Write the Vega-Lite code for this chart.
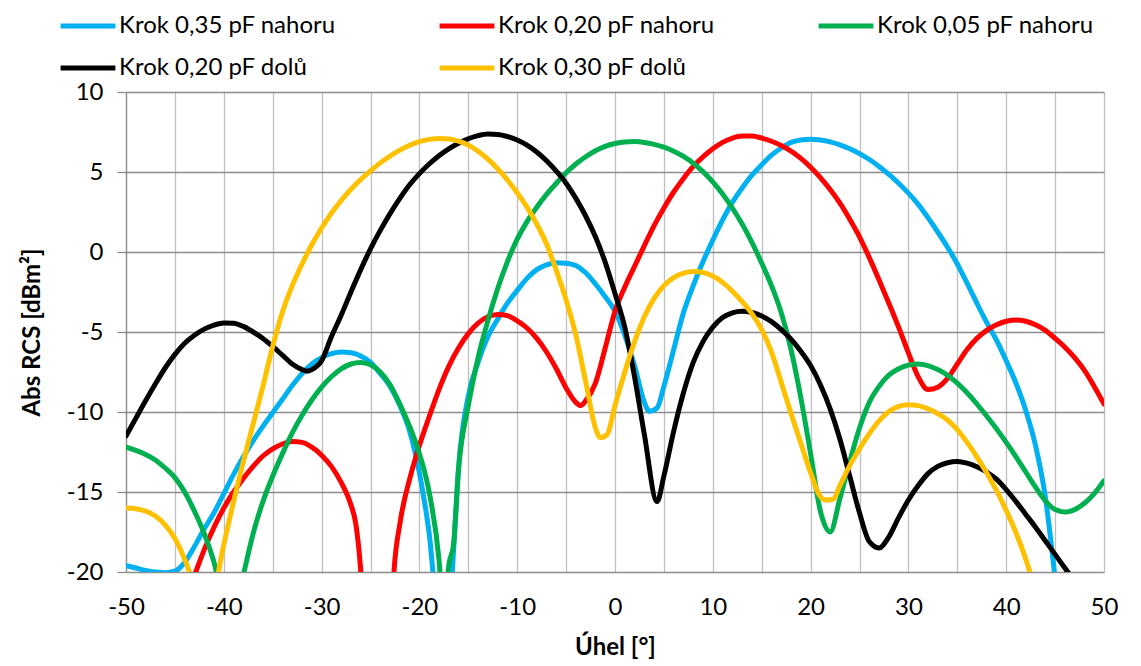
{
  "$schema": "https://vega.github.io/schema/vega-lite/v6.json",
  "width": 978,
  "height": 480,
  "autosize": {"type": "none"},
  "padding": {"left": 126, "top": 92, "right": 37, "bottom": 94},
  "background": "white",
  "config": {"font": "Lato", "view": {"stroke": null}},
  "data": {"values": [
    {"serie":"Krok 0,35 pF nahoru","uhel":-50,"rcs":-19.6},{"serie":"Krok 0,35 pF nahoru","uhel":-49,"rcs":-19.75},{"serie":"Krok 0,35 pF nahoru","uhel":-48,"rcs":-19.9},{"serie":"Krok 0,35 pF nahoru","uhel":-47,"rcs":-20.0},{"serie":"Krok 0,35 pF nahoru","uhel":-46,"rcs":-20.05},{"serie":"Krok 0,35 pF nahoru","uhel":-45,"rcs":-19.95},{"serie":"Krok 0,35 pF nahoru","uhel":-44,"rcs":-19.4},{"serie":"Krok 0,35 pF nahoru","uhel":-43,"rcs":-18.4},{"serie":"Krok 0,35 pF nahoru","uhel":-42,"rcs":-17.3},{"serie":"Krok 0,35 pF nahoru","uhel":-41,"rcs":-16.3},{"serie":"Krok 0,35 pF nahoru","uhel":-40,"rcs":-15.1},{"serie":"Krok 0,35 pF nahoru","uhel":-39,"rcs":-13.9},{"serie":"Krok 0,35 pF nahoru","uhel":-38,"rcs":-12.8},{"serie":"Krok 0,35 pF nahoru","uhel":-37,"rcs":-11.8},{"serie":"Krok 0,35 pF nahoru","uhel":-36,"rcs":-10.9},{"serie":"Krok 0,35 pF nahoru","uhel":-35,"rcs":-10.05},{"serie":"Krok 0,35 pF nahoru","uhel":-34,"rcs":-9.2},{"serie":"Krok 0,35 pF nahoru","uhel":-33,"rcs":-8.35},{"serie":"Krok 0,35 pF nahoru","uhel":-32,"rcs":-7.6},{"serie":"Krok 0,35 pF nahoru","uhel":-31,"rcs":-7.0},{"serie":"Krok 0,35 pF nahoru","uhel":-30,"rcs":-6.6},{"serie":"Krok 0,35 pF nahoru","uhel":-29,"rcs":-6.35},{"serie":"Krok 0,35 pF nahoru","uhel":-28,"rcs":-6.25},{"serie":"Krok 0,35 pF nahoru","uhel":-27,"rcs":-6.3},{"serie":"Krok 0,35 pF nahoru","uhel":-26,"rcs":-6.5},{"serie":"Krok 0,35 pF nahoru","uhel":-25,"rcs":-6.9},{"serie":"Krok 0,35 pF nahoru","uhel":-24,"rcs":-7.6},{"serie":"Krok 0,35 pF nahoru","uhel":-23,"rcs":-8.4},{"serie":"Krok 0,35 pF nahoru","uhel":-22,"rcs":-9.6},{"serie":"Krok 0,35 pF nahoru","uhel":-21,"rcs":-11.2},{"serie":"Krok 0,35 pF nahoru","uhel":-20,"rcs":-13.8},{"serie":"Krok 0,35 pF nahoru","uhel":-19,"rcs":-17.6},{"serie":"Krok 0,35 pF nahoru","uhel":-18,"rcs":-23},{"serie":"Krok 0,35 pF nahoru","uhel":-17,"rcs":-23},{"serie":"Krok 0,35 pF nahoru","uhel":-16.5,"rcs":-18.6},{"serie":"Krok 0,35 pF nahoru","uhel":-16,"rcs":-13.5},{"serie":"Krok 0,35 pF nahoru","uhel":-15,"rcs":-9.0},{"serie":"Krok 0,35 pF nahoru","uhel":-14,"rcs":-6.9},{"serie":"Krok 0,35 pF nahoru","uhel":-13,"rcs":-5.3},{"serie":"Krok 0,35 pF nahoru","uhel":-12,"rcs":-4.2},{"serie":"Krok 0,35 pF nahoru","uhel":-11,"rcs":-3.2},{"serie":"Krok 0,35 pF nahoru","uhel":-10,"rcs":-2.4},{"serie":"Krok 0,35 pF nahoru","uhel":-9,"rcs":-1.65},{"serie":"Krok 0,35 pF nahoru","uhel":-8,"rcs":-1.1},{"serie":"Krok 0,35 pF nahoru","uhel":-7,"rcs":-0.8},{"serie":"Krok 0,35 pF nahoru","uhel":-6,"rcs":-0.67},{"serie":"Krok 0,35 pF nahoru","uhel":-5,"rcs":-0.7},{"serie":"Krok 0,35 pF nahoru","uhel":-4,"rcs":-0.85},{"serie":"Krok 0,35 pF nahoru","uhel":-3,"rcs":-1.3},{"serie":"Krok 0,35 pF nahoru","uhel":-2,"rcs":-2.0},{"serie":"Krok 0,35 pF nahoru","uhel":-1,"rcs":-2.8},{"serie":"Krok 0,35 pF nahoru","uhel":0,"rcs":-3.7},{"serie":"Krok 0,35 pF nahoru","uhel":1,"rcs":-5.2},{"serie":"Krok 0,35 pF nahoru","uhel":2,"rcs":-7.1},{"serie":"Krok 0,35 pF nahoru","uhel":3,"rcs":-9.4},{"serie":"Krok 0,35 pF nahoru","uhel":3.5,"rcs":-9.95},{"serie":"Krok 0,35 pF nahoru","uhel":4.3,"rcs":-9.75},{"serie":"Krok 0,35 pF nahoru","uhel":5,"rcs":-8.4},{"serie":"Krok 0,35 pF nahoru","uhel":6,"rcs":-6.1},{"serie":"Krok 0,35 pF nahoru","uhel":7,"rcs":-3.8},{"serie":"Krok 0,35 pF nahoru","uhel":8,"rcs":-2.1},{"serie":"Krok 0,35 pF nahoru","uhel":9,"rcs":-0.6},{"serie":"Krok 0,35 pF nahoru","uhel":10,"rcs":0.75},{"serie":"Krok 0,35 pF nahoru","uhel":11,"rcs":2.0},{"serie":"Krok 0,35 pF nahoru","uhel":12,"rcs":3.1},{"serie":"Krok 0,35 pF nahoru","uhel":13,"rcs":4.0},{"serie":"Krok 0,35 pF nahoru","uhel":14,"rcs":4.8},{"serie":"Krok 0,35 pF nahoru","uhel":15,"rcs":5.45},{"serie":"Krok 0,35 pF nahoru","uhel":16,"rcs":6.05},{"serie":"Krok 0,35 pF nahoru","uhel":17,"rcs":6.5},{"serie":"Krok 0,35 pF nahoru","uhel":18,"rcs":6.85},{"serie":"Krok 0,35 pF nahoru","uhel":19,"rcs":7.0},{"serie":"Krok 0,35 pF nahoru","uhel":20,"rcs":7.05},{"serie":"Krok 0,35 pF nahoru","uhel":21,"rcs":7.0},{"serie":"Krok 0,35 pF nahoru","uhel":22,"rcs":6.88},{"serie":"Krok 0,35 pF nahoru","uhel":23,"rcs":6.7},{"serie":"Krok 0,35 pF nahoru","uhel":24,"rcs":6.45},{"serie":"Krok 0,35 pF nahoru","uhel":25,"rcs":6.15},{"serie":"Krok 0,35 pF nahoru","uhel":26,"rcs":5.78},{"serie":"Krok 0,35 pF nahoru","uhel":27,"rcs":5.35},{"serie":"Krok 0,35 pF nahoru","uhel":28,"rcs":4.85},{"serie":"Krok 0,35 pF nahoru","uhel":29,"rcs":4.3},{"serie":"Krok 0,35 pF nahoru","uhel":30,"rcs":3.68},{"serie":"Krok 0,35 pF nahoru","uhel":31,"rcs":2.98},{"serie":"Krok 0,35 pF nahoru","uhel":32,"rcs":2.15},{"serie":"Krok 0,35 pF nahoru","uhel":33,"rcs":1.25},{"serie":"Krok 0,35 pF nahoru","uhel":34,"rcs":0.3},{"serie":"Krok 0,35 pF nahoru","uhel":35,"rcs":-0.75},{"serie":"Krok 0,35 pF nahoru","uhel":36,"rcs":-1.95},{"serie":"Krok 0,35 pF nahoru","uhel":37,"rcs":-3.2},{"serie":"Krok 0,35 pF nahoru","uhel":38,"rcs":-4.4},{"serie":"Krok 0,35 pF nahoru","uhel":39,"rcs":-5.5},{"serie":"Krok 0,35 pF nahoru","uhel":40,"rcs":-6.8},{"serie":"Krok 0,35 pF nahoru","uhel":41,"rcs":-8.2},{"serie":"Krok 0,35 pF nahoru","uhel":42,"rcs":-9.9},{"serie":"Krok 0,35 pF nahoru","uhel":43,"rcs":-12.1},{"serie":"Krok 0,35 pF nahoru","uhel":44,"rcs":-15.3},{"serie":"Krok 0,35 pF nahoru","uhel":45,"rcs":-20.4},{"serie":"Krok 0,35 pF nahoru","uhel":46,"rcs":-26},{"serie":"Krok 0,35 pF nahoru","uhel":48,"rcs":-32},{"serie":"Krok 0,35 pF nahoru","uhel":50,"rcs":-38},

    {"serie":"Krok 0,20 pF nahoru","uhel":-50,"rcs":-32},{"serie":"Krok 0,20 pF nahoru","uhel":-47,"rcs":-27},{"serie":"Krok 0,20 pF nahoru","uhel":-45,"rcs":-23.5},{"serie":"Krok 0,20 pF nahoru","uhel":-44,"rcs":-21.8},{"serie":"Krok 0,20 pF nahoru","uhel":-43,"rcs":-20.2},{"serie":"Krok 0,20 pF nahoru","uhel":-42,"rcs":-18.6},{"serie":"Krok 0,20 pF nahoru","uhel":-41,"rcs":-17.2},{"serie":"Krok 0,20 pF nahoru","uhel":-40,"rcs":-16.0},{"serie":"Krok 0,20 pF nahoru","uhel":-39,"rcs":-15.0},{"serie":"Krok 0,20 pF nahoru","uhel":-38,"rcs":-14.15},{"serie":"Krok 0,20 pF nahoru","uhel":-37,"rcs":-13.4},{"serie":"Krok 0,20 pF nahoru","uhel":-36,"rcs":-12.75},{"serie":"Krok 0,20 pF nahoru","uhel":-35,"rcs":-12.3},{"serie":"Krok 0,20 pF nahoru","uhel":-34,"rcs":-12.0},{"serie":"Krok 0,20 pF nahoru","uhel":-33,"rcs":-11.85},{"serie":"Krok 0,20 pF nahoru","uhel":-32,"rcs":-11.9},{"serie":"Krok 0,20 pF nahoru","uhel":-31,"rcs":-12.2},{"serie":"Krok 0,20 pF nahoru","uhel":-30,"rcs":-12.7},{"serie":"Krok 0,20 pF nahoru","uhel":-29,"rcs":-13.4},{"serie":"Krok 0,20 pF nahoru","uhel":-28,"rcs":-14.4},{"serie":"Krok 0,20 pF nahoru","uhel":-27,"rcs":-15.8},{"serie":"Krok 0,20 pF nahoru","uhel":-26.5,"rcs":-17.0},{"serie":"Krok 0,20 pF nahoru","uhel":-26,"rcs":-19.9},{"serie":"Krok 0,20 pF nahoru","uhel":-25.5,"rcs":-25},{"serie":"Krok 0,20 pF nahoru","uhel":-24,"rcs":-29},{"serie":"Krok 0,20 pF nahoru","uhel":-23,"rcs":-25},{"serie":"Krok 0,20 pF nahoru","uhel":-22.6,"rcs":-20},{"serie":"Krok 0,20 pF nahoru","uhel":-22,"rcs":-17.0},{"serie":"Krok 0,20 pF nahoru","uhel":-21,"rcs":-14.2},{"serie":"Krok 0,20 pF nahoru","uhel":-20,"rcs":-12.1},{"serie":"Krok 0,20 pF nahoru","uhel":-19,"rcs":-10.3},{"serie":"Krok 0,20 pF nahoru","uhel":-18,"rcs":-8.6},{"serie":"Krok 0,20 pF nahoru","uhel":-17,"rcs":-7.15},{"serie":"Krok 0,20 pF nahoru","uhel":-16,"rcs":-6.0},{"serie":"Krok 0,20 pF nahoru","uhel":-15,"rcs":-5.1},{"serie":"Krok 0,20 pF nahoru","uhel":-14,"rcs":-4.45},{"serie":"Krok 0,20 pF nahoru","uhel":-13,"rcs":-4.05},{"serie":"Krok 0,20 pF nahoru","uhel":-12,"rcs":-3.9},{"serie":"Krok 0,20 pF nahoru","uhel":-11,"rcs":-3.98},{"serie":"Krok 0,20 pF nahoru","uhel":-10,"rcs":-4.3},{"serie":"Krok 0,20 pF nahoru","uhel":-9,"rcs":-4.75},{"serie":"Krok 0,20 pF nahoru","uhel":-8,"rcs":-5.4},{"serie":"Krok 0,20 pF nahoru","uhel":-7,"rcs":-6.25},{"serie":"Krok 0,20 pF nahoru","uhel":-6,"rcs":-7.3},{"serie":"Krok 0,20 pF nahoru","uhel":-5,"rcs":-8.5},{"serie":"Krok 0,20 pF nahoru","uhel":-4,"rcs":-9.4},{"serie":"Krok 0,20 pF nahoru","uhel":-3.5,"rcs":-9.6},{"serie":"Krok 0,20 pF nahoru","uhel":-3,"rcs":-9.3},{"serie":"Krok 0,20 pF nahoru","uhel":-2,"rcs":-8.2},{"serie":"Krok 0,20 pF nahoru","uhel":-1,"rcs":-6.0},{"serie":"Krok 0,20 pF nahoru","uhel":0,"rcs":-3.7},{"serie":"Krok 0,20 pF nahoru","uhel":1,"rcs":-2.2},{"serie":"Krok 0,20 pF nahoru","uhel":2,"rcs":-0.9},{"serie":"Krok 0,20 pF nahoru","uhel":3,"rcs":0.4},{"serie":"Krok 0,20 pF nahoru","uhel":4,"rcs":1.65},{"serie":"Krok 0,20 pF nahoru","uhel":5,"rcs":2.75},{"serie":"Krok 0,20 pF nahoru","uhel":6,"rcs":3.75},{"serie":"Krok 0,20 pF nahoru","uhel":7,"rcs":4.6},{"serie":"Krok 0,20 pF nahoru","uhel":8,"rcs":5.35},{"serie":"Krok 0,20 pF nahoru","uhel":9,"rcs":5.95},{"serie":"Krok 0,20 pF nahoru","uhel":10,"rcs":6.45},{"serie":"Krok 0,20 pF nahoru","uhel":11,"rcs":6.85},{"serie":"Krok 0,20 pF nahoru","uhel":12,"rcs":7.12},{"serie":"Krok 0,20 pF nahoru","uhel":13,"rcs":7.25},{"serie":"Krok 0,20 pF nahoru","uhel":14,"rcs":7.25},{"serie":"Krok 0,20 pF nahoru","uhel":15,"rcs":7.12},{"serie":"Krok 0,20 pF nahoru","uhel":16,"rcs":6.92},{"serie":"Krok 0,20 pF nahoru","uhel":17,"rcs":6.65},{"serie":"Krok 0,20 pF nahoru","uhel":18,"rcs":6.3},{"serie":"Krok 0,20 pF nahoru","uhel":19,"rcs":5.85},{"serie":"Krok 0,20 pF nahoru","uhel":20,"rcs":5.3},{"serie":"Krok 0,20 pF nahoru","uhel":21,"rcs":4.65},{"serie":"Krok 0,20 pF nahoru","uhel":22,"rcs":3.9},{"serie":"Krok 0,20 pF nahoru","uhel":23,"rcs":3.05},{"serie":"Krok 0,20 pF nahoru","uhel":24,"rcs":2.05},{"serie":"Krok 0,20 pF nahoru","uhel":25,"rcs":0.95},{"serie":"Krok 0,20 pF nahoru","uhel":26,"rcs":-0.35},{"serie":"Krok 0,20 pF nahoru","uhel":27,"rcs":-1.75},{"serie":"Krok 0,20 pF nahoru","uhel":28,"rcs":-3.2},{"serie":"Krok 0,20 pF nahoru","uhel":29,"rcs":-4.7},{"serie":"Krok 0,20 pF nahoru","uhel":30,"rcs":-6.3},{"serie":"Krok 0,20 pF nahoru","uhel":31,"rcs":-7.8},{"serie":"Krok 0,20 pF nahoru","uhel":32,"rcs":-8.6},{"serie":"Krok 0,20 pF nahoru","uhel":33,"rcs":-8.45},{"serie":"Krok 0,20 pF nahoru","uhel":34,"rcs":-7.9},{"serie":"Krok 0,20 pF nahoru","uhel":35,"rcs":-7.0},{"serie":"Krok 0,20 pF nahoru","uhel":36,"rcs":-6.1},{"serie":"Krok 0,20 pF nahoru","uhel":37,"rcs":-5.4},{"serie":"Krok 0,20 pF nahoru","uhel":38,"rcs":-4.9},{"serie":"Krok 0,20 pF nahoru","uhel":39,"rcs":-4.55},{"serie":"Krok 0,20 pF nahoru","uhel":40,"rcs":-4.33},{"serie":"Krok 0,20 pF nahoru","uhel":41,"rcs":-4.25},{"serie":"Krok 0,20 pF nahoru","uhel":42,"rcs":-4.33},{"serie":"Krok 0,20 pF nahoru","uhel":43,"rcs":-4.55},{"serie":"Krok 0,20 pF nahoru","uhel":44,"rcs":-4.9},{"serie":"Krok 0,20 pF nahoru","uhel":45,"rcs":-5.4},{"serie":"Krok 0,20 pF nahoru","uhel":46,"rcs":-5.95},{"serie":"Krok 0,20 pF nahoru","uhel":47,"rcs":-6.6},{"serie":"Krok 0,20 pF nahoru","uhel":48,"rcs":-7.4},{"serie":"Krok 0,20 pF nahoru","uhel":49,"rcs":-8.4},{"serie":"Krok 0,20 pF nahoru","uhel":50,"rcs":-9.5},

    {"serie":"Krok 0,05 pF nahoru","uhel":-50,"rcs":-12.2},{"serie":"Krok 0,05 pF nahoru","uhel":-49,"rcs":-12.4},{"serie":"Krok 0,05 pF nahoru","uhel":-48,"rcs":-12.65},{"serie":"Krok 0,05 pF nahoru","uhel":-47,"rcs":-13.0},{"serie":"Krok 0,05 pF nahoru","uhel":-46,"rcs":-13.5},{"serie":"Krok 0,05 pF nahoru","uhel":-45,"rcs":-14.1},{"serie":"Krok 0,05 pF nahoru","uhel":-44,"rcs":-15.0},{"serie":"Krok 0,05 pF nahoru","uhel":-43,"rcs":-16.2},{"serie":"Krok 0,05 pF nahoru","uhel":-42,"rcs":-17.6},{"serie":"Krok 0,05 pF nahoru","uhel":-41,"rcs":-19.4},{"serie":"Krok 0,05 pF nahoru","uhel":-40,"rcs":-22},{"serie":"Krok 0,05 pF nahoru","uhel":-39,"rcs":-23},{"serie":"Krok 0,05 pF nahoru","uhel":-38,"rcs":-20.2},{"serie":"Krok 0,05 pF nahoru","uhel":-37,"rcs":-17.6},{"serie":"Krok 0,05 pF nahoru","uhel":-36,"rcs":-15.6},{"serie":"Krok 0,05 pF nahoru","uhel":-35,"rcs":-14.0},{"serie":"Krok 0,05 pF nahoru","uhel":-34,"rcs":-12.6},{"serie":"Krok 0,05 pF nahoru","uhel":-33,"rcs":-11.3},{"serie":"Krok 0,05 pF nahoru","uhel":-32,"rcs":-10.2},{"serie":"Krok 0,05 pF nahoru","uhel":-31,"rcs":-9.25},{"serie":"Krok 0,05 pF nahoru","uhel":-30,"rcs":-8.45},{"serie":"Krok 0,05 pF nahoru","uhel":-29,"rcs":-7.8},{"serie":"Krok 0,05 pF nahoru","uhel":-28,"rcs":-7.3},{"serie":"Krok 0,05 pF nahoru","uhel":-27,"rcs":-7.0},{"serie":"Krok 0,05 pF nahoru","uhel":-26,"rcs":-6.9},{"serie":"Krok 0,05 pF nahoru","uhel":-25,"rcs":-7.05},{"serie":"Krok 0,05 pF nahoru","uhel":-24,"rcs":-7.5},{"serie":"Krok 0,05 pF nahoru","uhel":-23,"rcs":-8.3},{"serie":"Krok 0,05 pF nahoru","uhel":-22,"rcs":-9.5},{"serie":"Krok 0,05 pF nahoru","uhel":-21,"rcs":-10.9},{"serie":"Krok 0,05 pF nahoru","uhel":-20,"rcs":-12.6},{"serie":"Krok 0,05 pF nahoru","uhel":-19,"rcs":-15.0},{"serie":"Krok 0,05 pF nahoru","uhel":-18,"rcs":-19.2},{"serie":"Krok 0,05 pF nahoru","uhel":-17.5,"rcs":-23},{"serie":"Krok 0,05 pF nahoru","uhel":-17,"rcs":-19.6},{"serie":"Krok 0,05 pF nahoru","uhel":-16.5,"rcs":-18.2},{"serie":"Krok 0,05 pF nahoru","uhel":-16,"rcs":-13.6},{"serie":"Krok 0,05 pF nahoru","uhel":-15,"rcs":-9.6},{"serie":"Krok 0,05 pF nahoru","uhel":-14,"rcs":-6.6},{"serie":"Krok 0,05 pF nahoru","uhel":-13,"rcs":-4.3},{"serie":"Krok 0,05 pF nahoru","uhel":-12,"rcs":-2.3},{"serie":"Krok 0,05 pF nahoru","uhel":-11,"rcs":-0.6},{"serie":"Krok 0,05 pF nahoru","uhel":-10,"rcs":0.8},{"serie":"Krok 0,05 pF nahoru","uhel":-9,"rcs":1.9},{"serie":"Krok 0,05 pF nahoru","uhel":-8,"rcs":2.8},{"serie":"Krok 0,05 pF nahoru","uhel":-7,"rcs":3.6},{"serie":"Krok 0,05 pF nahoru","uhel":-6,"rcs":4.3},{"serie":"Krok 0,05 pF nahoru","uhel":-5,"rcs":4.95},{"serie":"Krok 0,05 pF nahoru","uhel":-4,"rcs":5.5},{"serie":"Krok 0,05 pF nahoru","uhel":-3,"rcs":5.95},{"serie":"Krok 0,05 pF nahoru","uhel":-2,"rcs":6.33},{"serie":"Krok 0,05 pF nahoru","uhel":-1,"rcs":6.6},{"serie":"Krok 0,05 pF nahoru","uhel":0,"rcs":6.78},{"serie":"Krok 0,05 pF nahoru","uhel":1,"rcs":6.88},{"serie":"Krok 0,05 pF nahoru","uhel":2,"rcs":6.9},{"serie":"Krok 0,05 pF nahoru","uhel":3,"rcs":6.85},{"serie":"Krok 0,05 pF nahoru","uhel":4,"rcs":6.73},{"serie":"Krok 0,05 pF nahoru","uhel":5,"rcs":6.55},{"serie":"Krok 0,05 pF nahoru","uhel":6,"rcs":6.3},{"serie":"Krok 0,05 pF nahoru","uhel":7,"rcs":5.97},{"serie":"Krok 0,05 pF nahoru","uhel":8,"rcs":5.55},{"serie":"Krok 0,05 pF nahoru","uhel":9,"rcs":5.02},{"serie":"Krok 0,05 pF nahoru","uhel":10,"rcs":4.38},{"serie":"Krok 0,05 pF nahoru","uhel":11,"rcs":3.62},{"serie":"Krok 0,05 pF nahoru","uhel":12,"rcs":2.75},{"serie":"Krok 0,05 pF nahoru","uhel":13,"rcs":1.75},{"serie":"Krok 0,05 pF nahoru","uhel":14,"rcs":0.6},{"serie":"Krok 0,05 pF nahoru","uhel":15,"rcs":-0.7},{"serie":"Krok 0,05 pF nahoru","uhel":16,"rcs":-2.1},{"serie":"Krok 0,05 pF nahoru","uhel":17,"rcs":-3.8},{"serie":"Krok 0,05 pF nahoru","uhel":18,"rcs":-6.1},{"serie":"Krok 0,05 pF nahoru","uhel":19,"rcs":-9.1},{"serie":"Krok 0,05 pF nahoru","uhel":20,"rcs":-12.6},{"serie":"Krok 0,05 pF nahoru","uhel":21,"rcs":-16.2},{"serie":"Krok 0,05 pF nahoru","uhel":22,"rcs":-17.5},{"serie":"Krok 0,05 pF nahoru","uhel":23,"rcs":-15.4},{"serie":"Krok 0,05 pF nahoru","uhel":24,"rcs":-13.1},{"serie":"Krok 0,05 pF nahoru","uhel":25,"rcs":-11.0},{"serie":"Krok 0,05 pF nahoru","uhel":26,"rcs":-9.4},{"serie":"Krok 0,05 pF nahoru","uhel":27,"rcs":-8.4},{"serie":"Krok 0,05 pF nahoru","uhel":28,"rcs":-7.7},{"serie":"Krok 0,05 pF nahoru","uhel":29,"rcs":-7.3},{"serie":"Krok 0,05 pF nahoru","uhel":30,"rcs":-7.07},{"serie":"Krok 0,05 pF nahoru","uhel":31,"rcs":-7.0},{"serie":"Krok 0,05 pF nahoru","uhel":32,"rcs":-7.1},{"serie":"Krok 0,05 pF nahoru","uhel":33,"rcs":-7.35},{"serie":"Krok 0,05 pF nahoru","uhel":34,"rcs":-7.7},{"serie":"Krok 0,05 pF nahoru","uhel":35,"rcs":-8.2},{"serie":"Krok 0,05 pF nahoru","uhel":36,"rcs":-8.8},{"serie":"Krok 0,05 pF nahoru","uhel":37,"rcs":-9.5},{"serie":"Krok 0,05 pF nahoru","uhel":38,"rcs":-10.25},{"serie":"Krok 0,05 pF nahoru","uhel":39,"rcs":-11.05},{"serie":"Krok 0,05 pF nahoru","uhel":40,"rcs":-11.9},{"serie":"Krok 0,05 pF nahoru","uhel":41,"rcs":-12.8},{"serie":"Krok 0,05 pF nahoru","uhel":42,"rcs":-13.75},{"serie":"Krok 0,05 pF nahoru","uhel":43,"rcs":-14.7},{"serie":"Krok 0,05 pF nahoru","uhel":44,"rcs":-15.55},{"serie":"Krok 0,05 pF nahoru","uhel":45,"rcs":-16.1},{"serie":"Krok 0,05 pF nahoru","uhel":46,"rcs":-16.25},{"serie":"Krok 0,05 pF nahoru","uhel":47,"rcs":-16.1},{"serie":"Krok 0,05 pF nahoru","uhel":48,"rcs":-15.7},{"serie":"Krok 0,05 pF nahoru","uhel":49,"rcs":-15.1},{"serie":"Krok 0,05 pF nahoru","uhel":50,"rcs":-14.3},

    {"serie":"Krok 0,20 pF dolů","uhel":-50,"rcs":-11.5},{"serie":"Krok 0,20 pF dolů","uhel":-49,"rcs":-10.4},{"serie":"Krok 0,20 pF dolů","uhel":-48,"rcs":-9.3},{"serie":"Krok 0,20 pF dolů","uhel":-47,"rcs":-8.25},{"serie":"Krok 0,20 pF dolů","uhel":-46,"rcs":-7.25},{"serie":"Krok 0,20 pF dolů","uhel":-45,"rcs":-6.4},{"serie":"Krok 0,20 pF dolů","uhel":-44,"rcs":-5.7},{"serie":"Krok 0,20 pF dolů","uhel":-43,"rcs":-5.2},{"serie":"Krok 0,20 pF dolů","uhel":-42,"rcs":-4.82},{"serie":"Krok 0,20 pF dolů","uhel":-41,"rcs":-4.57},{"serie":"Krok 0,20 pF dolů","uhel":-40,"rcs":-4.43},{"serie":"Krok 0,20 pF dolů","uhel":-39,"rcs":-4.45},{"serie":"Krok 0,20 pF dolů","uhel":-38,"rcs":-4.65},{"serie":"Krok 0,20 pF dolů","uhel":-37,"rcs":-5.0},{"serie":"Krok 0,20 pF dolů","uhel":-36,"rcs":-5.4},{"serie":"Krok 0,20 pF dolů","uhel":-35,"rcs":-5.9},{"serie":"Krok 0,20 pF dolů","uhel":-34,"rcs":-6.45},{"serie":"Krok 0,20 pF dolů","uhel":-33,"rcs":-7.0},{"serie":"Krok 0,20 pF dolů","uhel":-32,"rcs":-7.35},{"serie":"Krok 0,20 pF dolů","uhel":-31.5,"rcs":-7.45},{"serie":"Krok 0,20 pF dolů","uhel":-31,"rcs":-7.35},{"serie":"Krok 0,20 pF dolů","uhel":-30,"rcs":-6.8},{"serie":"Krok 0,20 pF dolů","uhel":-29,"rcs":-5.3},{"serie":"Krok 0,20 pF dolů","uhel":-28,"rcs":-3.95},{"serie":"Krok 0,20 pF dolů","uhel":-27,"rcs":-2.5},{"serie":"Krok 0,20 pF dolů","uhel":-26,"rcs":-1.1},{"serie":"Krok 0,20 pF dolů","uhel":-25,"rcs":0.2},{"serie":"Krok 0,20 pF dolů","uhel":-24,"rcs":1.35},{"serie":"Krok 0,20 pF dolů","uhel":-23,"rcs":2.4},{"serie":"Krok 0,20 pF dolů","uhel":-22,"rcs":3.35},{"serie":"Krok 0,20 pF dolů","uhel":-21,"rcs":4.2},{"serie":"Krok 0,20 pF dolů","uhel":-20,"rcs":4.9},{"serie":"Krok 0,20 pF dolů","uhel":-19,"rcs":5.5},{"serie":"Krok 0,20 pF dolů","uhel":-18,"rcs":6.02},{"serie":"Krok 0,20 pF dolů","uhel":-17,"rcs":6.45},{"serie":"Krok 0,20 pF dolů","uhel":-16,"rcs":6.8},{"serie":"Krok 0,20 pF dolů","uhel":-15,"rcs":7.08},{"serie":"Krok 0,20 pF dolů","uhel":-14,"rcs":7.27},{"serie":"Krok 0,20 pF dolů","uhel":-13,"rcs":7.37},{"serie":"Krok 0,20 pF dolů","uhel":-12,"rcs":7.35},{"serie":"Krok 0,20 pF dolů","uhel":-11,"rcs":7.22},{"serie":"Krok 0,20 pF dolů","uhel":-10,"rcs":7.0},{"serie":"Krok 0,20 pF dolů","uhel":-9,"rcs":6.68},{"serie":"Krok 0,20 pF dolů","uhel":-8,"rcs":6.25},{"serie":"Krok 0,20 pF dolů","uhel":-7,"rcs":5.7},{"serie":"Krok 0,20 pF dolů","uhel":-6,"rcs":5.05},{"serie":"Krok 0,20 pF dolů","uhel":-5,"rcs":4.3},{"serie":"Krok 0,20 pF dolů","uhel":-4,"rcs":3.35},{"serie":"Krok 0,20 pF dolů","uhel":-3,"rcs":2.25},{"serie":"Krok 0,20 pF dolů","uhel":-2,"rcs":0.95},{"serie":"Krok 0,20 pF dolů","uhel":-1,"rcs":-0.65},{"serie":"Krok 0,20 pF dolů","uhel":0,"rcs":-2.6},{"serie":"Krok 0,20 pF dolů","uhel":1,"rcs":-4.7},{"serie":"Krok 0,20 pF dolů","uhel":2,"rcs":-7.8},{"serie":"Krok 0,20 pF dolů","uhel":3,"rcs":-11.4},{"serie":"Krok 0,20 pF dolů","uhel":4.3,"rcs":-15.6},{"serie":"Krok 0,20 pF dolů","uhel":5,"rcs":-14.0},{"serie":"Krok 0,20 pF dolů","uhel":6,"rcs":-11.2},{"serie":"Krok 0,20 pF dolů","uhel":7,"rcs":-8.8},{"serie":"Krok 0,20 pF dolů","uhel":8,"rcs":-6.9},{"serie":"Krok 0,20 pF dolů","uhel":9,"rcs":-5.6},{"serie":"Krok 0,20 pF dolů","uhel":10,"rcs":-4.7},{"serie":"Krok 0,20 pF dolů","uhel":11,"rcs":-4.1},{"serie":"Krok 0,20 pF dolů","uhel":12,"rcs":-3.8},{"serie":"Krok 0,20 pF dolů","uhel":13,"rcs":-3.7},{"serie":"Krok 0,20 pF dolů","uhel":14,"rcs":-3.78},{"serie":"Krok 0,20 pF dolů","uhel":15,"rcs":-4.0},{"serie":"Krok 0,20 pF dolů","uhel":16,"rcs":-4.35},{"serie":"Krok 0,20 pF dolů","uhel":17,"rcs":-4.85},{"serie":"Krok 0,20 pF dolů","uhel":18,"rcs":-5.45},{"serie":"Krok 0,20 pF dolů","uhel":19,"rcs":-6.2},{"serie":"Krok 0,20 pF dolů","uhel":20,"rcs":-7.1},{"serie":"Krok 0,20 pF dolů","uhel":21,"rcs":-8.3},{"serie":"Krok 0,20 pF dolů","uhel":22,"rcs":-9.8},{"serie":"Krok 0,20 pF dolů","uhel":23,"rcs":-11.7},{"serie":"Krok 0,20 pF dolů","uhel":24,"rcs":-14.0},{"serie":"Krok 0,20 pF dolů","uhel":25,"rcs":-16.3},{"serie":"Krok 0,20 pF dolů","uhel":26,"rcs":-18.1},{"serie":"Krok 0,20 pF dolů","uhel":27,"rcs":-18.5},{"serie":"Krok 0,20 pF dolů","uhel":28,"rcs":-17.8},{"serie":"Krok 0,20 pF dolů","uhel":29,"rcs":-16.6},{"serie":"Krok 0,20 pF dolů","uhel":30,"rcs":-15.5},{"serie":"Krok 0,20 pF dolů","uhel":31,"rcs":-14.6},{"serie":"Krok 0,20 pF dolů","uhel":32,"rcs":-13.85},{"serie":"Krok 0,20 pF dolů","uhel":33,"rcs":-13.4},{"serie":"Krok 0,20 pF dolů","uhel":34,"rcs":-13.17},{"serie":"Krok 0,20 pF dolů","uhel":35,"rcs":-13.1},{"serie":"Krok 0,20 pF dolů","uhel":36,"rcs":-13.2},{"serie":"Krok 0,20 pF dolů","uhel":37,"rcs":-13.42},{"serie":"Krok 0,20 pF dolů","uhel":38,"rcs":-13.75},{"serie":"Krok 0,20 pF dolů","uhel":39,"rcs":-14.2},{"serie":"Krok 0,20 pF dolů","uhel":40,"rcs":-14.85},{"serie":"Krok 0,20 pF dolů","uhel":41,"rcs":-15.6},{"serie":"Krok 0,20 pF dolů","uhel":42,"rcs":-16.4},{"serie":"Krok 0,20 pF dolů","uhel":43,"rcs":-17.2},{"serie":"Krok 0,20 pF dolů","uhel":44,"rcs":-18.05},{"serie":"Krok 0,20 pF dolů","uhel":45,"rcs":-18.9},{"serie":"Krok 0,20 pF dolů","uhel":46,"rcs":-19.75},{"serie":"Krok 0,20 pF dolů","uhel":47,"rcs":-20.6},{"serie":"Krok 0,20 pF dolů","uhel":48,"rcs":-21.5},{"serie":"Krok 0,20 pF dolů","uhel":50,"rcs":-23.5},

    {"serie":"Krok 0,30 pF dolů","uhel":-50,"rcs":-16.0},{"serie":"Krok 0,30 pF dolů","uhel":-49,"rcs":-16.05},{"serie":"Krok 0,30 pF dolů","uhel":-48,"rcs":-16.2},{"serie":"Krok 0,30 pF dolů","uhel":-47,"rcs":-16.5},{"serie":"Krok 0,30 pF dolů","uhel":-46,"rcs":-17.05},{"serie":"Krok 0,30 pF dolů","uhel":-45,"rcs":-17.9},{"serie":"Krok 0,30 pF dolů","uhel":-44,"rcs":-19.2},{"serie":"Krok 0,30 pF dolů","uhel":-43,"rcs":-21},{"serie":"Krok 0,30 pF dolů","uhel":-42,"rcs":-23.5},{"serie":"Krok 0,30 pF dolů","uhel":-41,"rcs":-21.3},{"serie":"Krok 0,30 pF dolů","uhel":-40,"rcs":-18.3},{"serie":"Krok 0,30 pF dolů","uhel":-39,"rcs":-15.6},{"serie":"Krok 0,30 pF dolů","uhel":-38,"rcs":-13.1},{"serie":"Krok 0,30 pF dolů","uhel":-37,"rcs":-10.75},{"serie":"Krok 0,30 pF dolů","uhel":-36,"rcs":-8.4},{"serie":"Krok 0,30 pF dolů","uhel":-35,"rcs":-5.9},{"serie":"Krok 0,30 pF dolů","uhel":-34,"rcs":-3.75},{"serie":"Krok 0,30 pF dolů","uhel":-33,"rcs":-2.1},{"serie":"Krok 0,30 pF dolů","uhel":-32,"rcs":-0.75},{"serie":"Krok 0,30 pF dolů","uhel":-31,"rcs":0.45},{"serie":"Krok 0,30 pF dolů","uhel":-30,"rcs":1.5},{"serie":"Krok 0,30 pF dolů","uhel":-29,"rcs":2.42},{"serie":"Krok 0,30 pF dolů","uhel":-28,"rcs":3.22},{"serie":"Krok 0,30 pF dolů","uhel":-27,"rcs":3.92},{"serie":"Krok 0,30 pF dolů","uhel":-26,"rcs":4.53},{"serie":"Krok 0,30 pF dolů","uhel":-25,"rcs":5.07},{"serie":"Krok 0,30 pF dolů","uhel":-24,"rcs":5.57},{"serie":"Krok 0,30 pF dolů","uhel":-23,"rcs":6.0},{"serie":"Krok 0,30 pF dolů","uhel":-22,"rcs":6.37},{"serie":"Krok 0,30 pF dolů","uhel":-21,"rcs":6.67},{"serie":"Krok 0,30 pF dolů","uhel":-20,"rcs":6.9},{"serie":"Krok 0,30 pF dolů","uhel":-19,"rcs":7.04},{"serie":"Krok 0,30 pF dolů","uhel":-18,"rcs":7.1},{"serie":"Krok 0,30 pF dolů","uhel":-17,"rcs":7.06},{"serie":"Krok 0,30 pF dolů","uhel":-16,"rcs":6.93},{"serie":"Krok 0,30 pF dolů","uhel":-15,"rcs":6.68},{"serie":"Krok 0,30 pF dolů","uhel":-14,"rcs":6.3},{"serie":"Krok 0,30 pF dolů","uhel":-13,"rcs":5.8},{"serie":"Krok 0,30 pF dolů","uhel":-12,"rcs":5.2},{"serie":"Krok 0,30 pF dolů","uhel":-11,"rcs":4.5},{"serie":"Krok 0,30 pF dolů","uhel":-10,"rcs":3.7},{"serie":"Krok 0,30 pF dolů","uhel":-9,"rcs":2.8},{"serie":"Krok 0,30 pF dolů","uhel":-8,"rcs":1.75},{"serie":"Krok 0,30 pF dolů","uhel":-7,"rcs":0.5},{"serie":"Krok 0,30 pF dolů","uhel":-6,"rcs":-1.15},{"serie":"Krok 0,30 pF dolů","uhel":-5,"rcs":-3.0},{"serie":"Krok 0,30 pF dolů","uhel":-4,"rcs":-5.2},{"serie":"Krok 0,30 pF dolů","uhel":-3,"rcs":-8.1},{"serie":"Krok 0,30 pF dolů","uhel":-2,"rcs":-11.0},{"serie":"Krok 0,30 pF dolů","uhel":-1.5,"rcs":-11.6},{"serie":"Krok 0,30 pF dolů","uhel":-0.8,"rcs":-11.4},{"serie":"Krok 0,30 pF dolů","uhel":0,"rcs":-9.6},{"serie":"Krok 0,30 pF dolů","uhel":1,"rcs":-7.5},{"serie":"Krok 0,30 pF dolů","uhel":2,"rcs":-5.6},{"serie":"Krok 0,30 pF dolů","uhel":3,"rcs":-4.05},{"serie":"Krok 0,30 pF dolů","uhel":4,"rcs":-2.9},{"serie":"Krok 0,30 pF dolů","uhel":5,"rcs":-2.1},{"serie":"Krok 0,30 pF dolů","uhel":6,"rcs":-1.6},{"serie":"Krok 0,30 pF dolů","uhel":7,"rcs":-1.32},{"serie":"Krok 0,30 pF dolů","uhel":8,"rcs":-1.22},{"serie":"Krok 0,30 pF dolů","uhel":9,"rcs":-1.28},{"serie":"Krok 0,30 pF dolů","uhel":10,"rcs":-1.5},{"serie":"Krok 0,30 pF dolů","uhel":11,"rcs":-1.9},{"serie":"Krok 0,30 pF dolů","uhel":12,"rcs":-2.45},{"serie":"Krok 0,30 pF dolů","uhel":13,"rcs":-3.1},{"serie":"Krok 0,30 pF dolů","uhel":14,"rcs":-3.85},{"serie":"Krok 0,30 pF dolů","uhel":15,"rcs":-4.85},{"serie":"Krok 0,30 pF dolů","uhel":16,"rcs":-6.25},{"serie":"Krok 0,30 pF dolů","uhel":17,"rcs":-8.15},{"serie":"Krok 0,30 pF dolů","uhel":18,"rcs":-10.1},{"serie":"Krok 0,30 pF dolů","uhel":19,"rcs":-11.95},{"serie":"Krok 0,30 pF dolů","uhel":20,"rcs":-13.8},{"serie":"Krok 0,30 pF dolů","uhel":21,"rcs":-15.3},{"serie":"Krok 0,30 pF dolů","uhel":21.5,"rcs":-15.5},{"serie":"Krok 0,30 pF dolů","uhel":22.3,"rcs":-15.45},{"serie":"Krok 0,30 pF dolů","uhel":23,"rcs":-14.6},{"serie":"Krok 0,30 pF dolů","uhel":24,"rcs":-13.35},{"serie":"Krok 0,30 pF dolů","uhel":25,"rcs":-12.3},{"serie":"Krok 0,30 pF dolů","uhel":26,"rcs":-11.35},{"serie":"Krok 0,30 pF dolů","uhel":27,"rcs":-10.55},{"serie":"Krok 0,30 pF dolů","uhel":28,"rcs":-9.97},{"serie":"Krok 0,30 pF dolů","uhel":29,"rcs":-9.65},{"serie":"Krok 0,30 pF dolů","uhel":30,"rcs":-9.55},{"serie":"Krok 0,30 pF dolů","uhel":31,"rcs":-9.6},{"serie":"Krok 0,30 pF dolů","uhel":32,"rcs":-9.8},{"serie":"Krok 0,30 pF dolů","uhel":33,"rcs":-10.1},{"serie":"Krok 0,30 pF dolů","uhel":34,"rcs":-10.5},{"serie":"Krok 0,30 pF dolů","uhel":35,"rcs":-11.1},{"serie":"Krok 0,30 pF dolů","uhel":36,"rcs":-11.9},{"serie":"Krok 0,30 pF dolů","uhel":37,"rcs":-12.8},{"serie":"Krok 0,30 pF dolů","uhel":38,"rcs":-13.8},{"serie":"Krok 0,30 pF dolů","uhel":39,"rcs":-14.9},{"serie":"Krok 0,30 pF dolů","uhel":40,"rcs":-16.15},{"serie":"Krok 0,30 pF dolů","uhel":41,"rcs":-17.55},{"serie":"Krok 0,30 pF dolů","uhel":42,"rcs":-19.2},{"serie":"Krok 0,30 pF dolů","uhel":43,"rcs":-21.2},{"serie":"Krok 0,30 pF dolů","uhel":44,"rcs":-23.5},{"serie":"Krok 0,30 pF dolů","uhel":46,"rcs":-27},{"serie":"Krok 0,30 pF dolů","uhel":48,"rcs":-31},{"serie":"Krok 0,30 pF dolů","uhel":50,"rcs":-35}
  ]},
  "layer": [
    {
      "mark": {"type": "line", "clip": true, "interpolate": "monotone", "strokeWidth": 5, "strokeCap": "round", "strokeJoin": "round"},
      "encoding": {
        "x": {
          "field": "uhel", "type": "quantitative",
          "scale": {"domain": [-50, 50], "nice": false, "zero": false},
          "axis": {
            "values": [-50,-45,-40,-35,-30,-25,-20,-15,-10,-5,0,5,10,15,20,25,30,35,40,45,50],
            "labelExpr": "datum.value % 10 === 0 ? '' + datum.value : ''",
            "title": "Úhel [°]",
            "titleFontSize": 24, "titleFontWeight": "bold", "titleColor": "#000000", "titlePadding": 16,
            "labelFontSize": 24, "labelColor": "#000000", "labelPadding": 23, "labelFlush": false,
            "ticks": false, "domain": false,
            "grid": true, "gridColor": "#bfbfbf", "gridWidth": 1.3
          }
        },
        "y": {
          "field": "rcs", "type": "quantitative",
          "scale": {"domain": [-20, 10], "nice": false, "zero": false},
          "axis": {
            "values": [-20,-15,-10,-5,0,5,10],
            "labelExpr": "'' + datum.value",
            "title": "Abs RCS [dBm²]",
            "titleFontSize": 24, "titleFontWeight": "bold", "titleColor": "#000000", "titlePadding": 22,
            "labelFontSize": 24, "labelColor": "#000000", "labelPadding": 14,
            "tickSize": 9, "tickColor": "#8c8c8c", "tickWidth": 1.3,
            "domainColor": "#8c8c8c", "domainWidth": 1.3,
            "grid": true, "gridColor": "#8c8c8c", "gridWidth": 1.3
          }
        },
        "color": {
          "field": "serie", "type": "nominal",
          "scale": {
            "domain": ["Krok 0,35 pF nahoru", "Krok 0,20 pF nahoru", "Krok 0,05 pF nahoru", "Krok 0,20 pF dolů", "Krok 0,30 pF dolů"],
            "range": ["#00b0f0", "#ff0000", "#00b050", "#000000", "#ffc000"]
          },
          "legend": {
            "title": null, "orient": "none", "legendX": -68, "legendY": -96,
            "direction": "horizontal", "columns": 3, "padding": 0,
            "symbolType": "stroke", "symbolSize": 3000, "symbolStrokeWidth": 5,
            "labelFontSize": 24, "labelColor": "#000000", "labelOffset": 1, "labelLimit": 400,
            "columnPadding": 93, "rowPadding": -15
          }
        }
      }
    }
  ]
}
